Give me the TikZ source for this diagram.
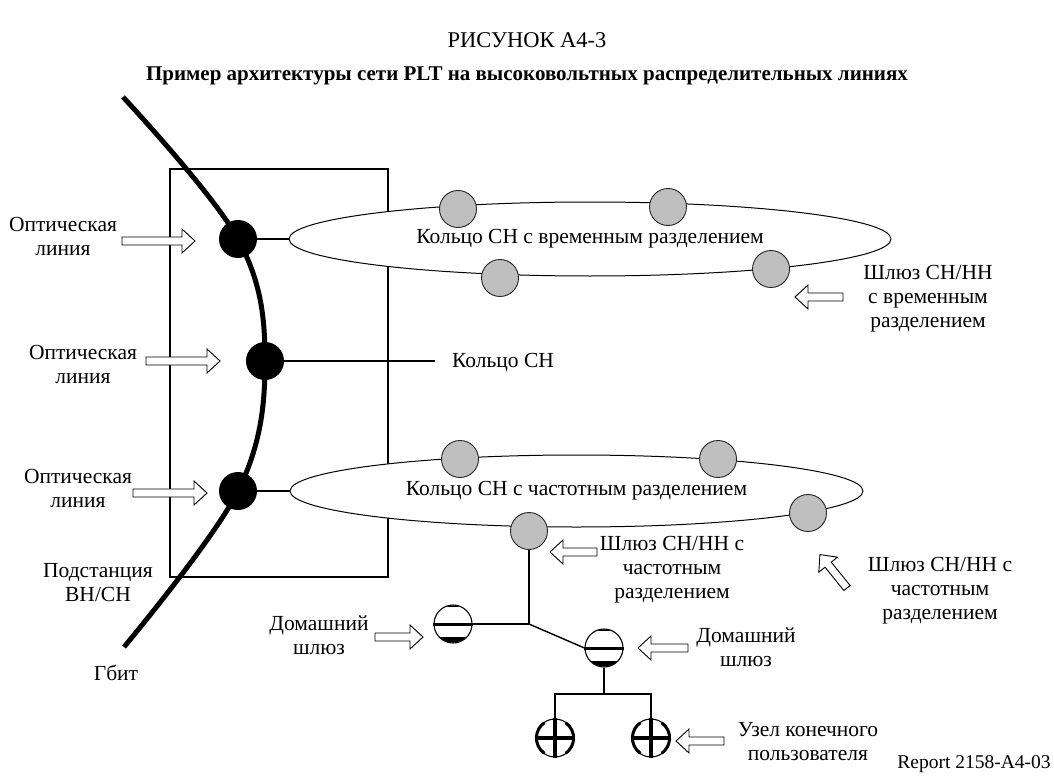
\documentclass[tikz,border=0pt]{standalone}
\usepackage{fontspec}
\setmainfont{Liberation Serif}
\usetikzlibrary{shapes.geometric,calc}

\tikzset{
  lbl/.style={align=center, font=\fontsize{21.5}{24}\selectfont, inner sep=0pt},
  bdot/.style={circle, fill=black, minimum size=38pt, inner sep=0pt},
  gdot/.style={circle, draw=black!85, line width=0.9pt, fill=gray!50, minimum size=37pt, inner sep=0pt},
  ring/.style={ellipse, draw, line width=1pt, fill=white, inner sep=0pt, font=\fontsize{21.5}{24}\selectfont},
  gwnode/.style={circle, draw, line width=1.1pt, fill=white, minimum size=38pt, inner sep=0pt},
  link/.style={line width=1.4pt},
  blk/.style={draw, line width=0.9pt, fill=white, line join=miter},
}

\newcommand\blkarrow[3]{%
  \draw[blk, shift={#1}, rotate=#2] (0,-4) -- ({#3-13},-4) -- ({#3-13},-12) -- (#3,0)
     -- ({#3-13},12) -- ({#3-13},4) -- (0,4) -- cycle;}

\newcommand\hgsym[1]{%
  \begin{scope}
    \clip (#1.center) circle (18.6);
    \fill ([shift={(-20,13)}]#1.center) rectangle ([shift={(20,20)}]#1.center);
    \fill ([shift={(-20,-20)}]#1.center) rectangle ([shift={(20,-17)}]#1.center);
  \end{scope}
  \draw[line width=3pt] (#1.west) -- (#1.east);}

\newcommand\eusym[1]{%
  \draw[line width=3.4pt] (#1.west) -- (#1.east) (#1.north) -- (#1.south);
  \draw[line width=3pt] ([shift={(125:18.6)}]#1.center) arc[start angle=125, end angle=235, radius=18.6];
  \draw[line width=3pt] ([shift={(-55:18.6)}]#1.center) arc[start angle=-55, end angle=55, radius=18.6];}

\begin{document}
\begin{tikzpicture}[x=1pt,y=-1pt]
\useasboundingbox (0,0) rectangle (1054,778);

% titles
\node[lbl, font=\fontsize{22.5}{26}\selectfont] (title) at (527,40) {РИСУНОК A4-3};
\node[lbl, font=\fontsize{21}{24}\selectfont] (subtitle) at (527,76) {\textbf{Пример архитектуры сети PLT на высоковольтных распределительных линиях}};

% substation box
\draw[line width=1.4pt] (170,169) rectangle (388,577);

% black nodes and HV line
\node[bdot] (b1) at (238,239) {};
\node[bdot] (b2) at (265,361) {};
\node[bdot] (b3) at (238,491) {};
\coordinate (gtop) at (123,97);
\coordinate (gbot) at (124,647);
\draw[line width=5pt] plot[smooth, tension=0.6] coordinates {(gtop) (b1.center) (b2.center) (b3.center) (gbot)};

% rings
\node[ring, minimum width=602pt, minimum height=74pt] (ring1) at (590,239) {Кольцо СН с временным разделением};
\node[ring, minimum width=573pt, minimum height=72pt] (ring2) at (576.5,491) {Кольцо СН с частотным разделением};

\draw[link] (b1.east) -- (ring1.west);
\draw[link] (b3.east) -- (ring2.west);
\coordinate (midend) at (435,361);
\draw[link] (b2.east) -- (midend);
\node[lbl] (ringmid) at (503,362) {Кольцо СН};

% gray nodes
\node[gdot] (g1) at (458,209) {};
\node[gdot] (g2) at (668,207) {};
\node[gdot] (g3) at (500,278) {};
\node[gdot] (g4) at (771,269) {};
\node[gdot] (g5) at (460,459) {};
\node[gdot] (g6) at (718,459) {};
\node[gdot] (g7) at (808,513) {};
\node[gdot] (g8) at (529,531) {};

% tree
\node[gwnode] (hg1) at (453,624) {};
\node[gwnode] (hg2) at (604,648) {};
\node[gwnode] (eu1) at (555,738) {};
\node[gwnode] (eu2) at (651,738) {};
\coordinate (j1) at (529,624);
\coordinate (j2) at (604,694);
\draw[link] (g8.south) -- (j1);
\draw[link] (j1) -- (hg1.east);
\draw[link] (j1) -- (hg2.west);
\draw[link] (hg2.south) -- (j2);
\draw[link] (eu1.north) |- (j2) -| (eu2.north);
\hgsym{hg1}
\hgsym{hg2}
\eusym{eu1}
\eusym{eu2}

% block arrows
\blkarrow{(122,241)}{0}{73}
\blkarrow{(146,361)}{0}{74}
\blkarrow{(133,493)}{0}{74}
\blkarrow{(843,297)}{180}{48}
\blkarrow{(597,552)}{180}{47}
\blkarrow{(847,588)}{129}{43}
\blkarrow{(375,637)}{0}{48}
\blkarrow{(688,648)}{180}{50}
\blkarrow{(724,741)}{180}{48}

% labels
\node[lbl] (lopt1) at (63,236) {Оптическая\\линия};
\node[lbl] (lopt2) at (83,364) {Оптическая\\линия};
\node[lbl] (lopt3) at (78,488) {Оптическая\\линия};
\node[lbl] (lsub) at (98,583) {Подстанция\\ВН/СН};
\node[lbl] (lgbit) at (116,673) {Гбит};
\node[lbl] (lgw1) at (928,299) {Шлюз СН/НН\\с временным\\разделением};
\node[lbl] (lgw2) at (672,570) {Шлюз СН/НН с\\частотным\\разделением};
\node[lbl] (lgw3) at (940,591) {Шлюз СН/НН с\\частотным\\разделением};
\node[lbl] (lhg1) at (319,635) {Домашний\\шлюз};
\node[lbl] (lhg2) at (746,647) {Домашний\\шлюз};
\node[lbl] (leu) at (808,742) {Узел конечного\\пользователя};
\node[lbl, font=\fontsize{19.5}{22}\selectfont] (lrep) at (974,764) {Report 2158-A4-03};
\end{tikzpicture}
\end{document}
